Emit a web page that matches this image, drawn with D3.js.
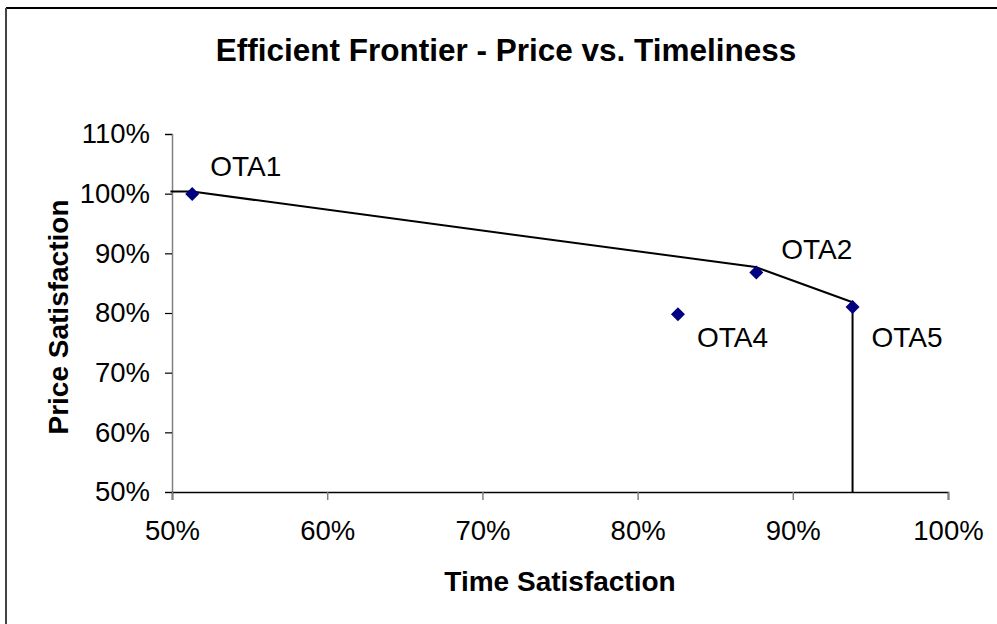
<!DOCTYPE html>
<html>
<head>
<meta charset="utf-8">
<script src="https://d3js.org/d3.v7.min.js"></script>
<style>
  body { margin: 0; background: #fff; }
  text { font-family: Arial, "Liberation Sans", sans-serif; }
</style>
</head>
<body>
<script>

// data
var names = ["OTA1", "OTA2", "OTA4", "OTA5"];
var timeSat = [0.513, 0.8765, 0.826, 0.9385];
var priceSat = [0.9995, 0.868, 0.798, 0.810];

// frontier polyline
var frontierTime = [0.499, 0.513, 0.876, 0.9385, 0.9385];
var frontierPrice = [1.0035, 1.0035, 0.877, 0.818, 0.5];

var xTicks = [0.5, 0.6, 0.7, 0.8, 0.9, 1.0];
var yTicks = [0.5, 0.6, 0.7, 0.8, 0.9, 1.0, 1.1];

// label placement (dx, dy from the marker)
var labelDx = [18, 25, 19, 19];
var labelDy = [-18, -13, 33, 40];

var width = 997, height = 624;

var svg = d3.select("body").append("svg")
  .attr("width", width).attr("height", height);

// chart area border (only top and left visible)
svg.append("line").attr("x1", 6).attr("x2", width).attr("y1", 8).attr("y2", 8)
  .attr("stroke", "#000").attr("stroke-width", 2);
svg.append("line").attr("x1", 6).attr("x2", 6).attr("y1", 8).attr("y2", height)
  .attr("stroke", "#444").attr("stroke-width", 2);

var x = d3.scaleLinear().domain([0.5, 1.0]).range([172, 948]);
var y = d3.scaleLinear().domain([0.5, 1.1]).range([492, 134]);

var pct = d3.format(".0%");

// y axis
var yAxis = svg.append("g").attr("transform", "translate(172,0)")
  .call(d3.axisLeft(y).tickValues(yTicks).tickFormat(pct).tickSize(7).tickPadding(15));
yAxis.select(".domain").attr("stroke", "#808080").attr("stroke-width", 1.5);
yAxis.selectAll(".tick line").attr("stroke", "#000").attr("stroke-width", 1.2);
yAxis.selectAll("text").attr("font-size", 27.5).attr("fill", "#000")
  .attr("font-family", "Arial, 'Liberation Sans', sans-serif");

// x axis
var xAxis = svg.append("g").attr("transform", "translate(0,492)")
  .call(d3.axisBottom(x).tickValues(xTicks).tickFormat(pct).tickSize(8).tickPadding(20));
xAxis.select(".domain").attr("stroke", "#000").attr("stroke-width", 1.5);
xAxis.selectAll(".tick line").attr("stroke", "#808080").attr("stroke-width", 1.5);
xAxis.selectAll("text").attr("font-size", 27.5).attr("fill", "#000")
  .attr("font-family", "Arial, 'Liberation Sans', sans-serif");

// frontier line
var frontier = frontierTime.map(function(t, i) { return [t, frontierPrice[i]]; });
svg.append("path")
  .datum(frontier)
  .attr("d", d3.line().x(function(d) { return x(d[0]); }).y(function(d) { return y(d[1]); }))
  .attr("fill", "none")
  .attr("stroke", "#000")
  .attr("stroke-width", 2);

// points
var pts = names.map(function(n, i) { return { name: n, t: timeSat[i], p: priceSat[i], dx: labelDx[i], dy: labelDy[i] }; });

svg.selectAll(".pt").data(pts).enter()
  .append("path")
  .attr("class", "pt")
  .attr("transform", function(d) { return "translate(" + x(d.t) + "," + y(d.p) + ")"; })
  .attr("d", "M0,-7L7,0L0,7L-7,0Z")
  .attr("fill", "#000080");

svg.selectAll(".lbl").data(pts).enter()
  .append("text")
  .attr("class", "lbl")
  .attr("x", function(d) { return x(d.t) + d.dx; })
  .attr("y", function(d) { return y(d.p) + d.dy; })
  .attr("font-size", 28)
  .text(function(d) { return d.name; });

// titles
svg.append("text")
  .attr("x", 506).attr("y", 61)
  .attr("text-anchor", "middle")
  .attr("font-size", 31.5).attr("font-weight", "bold")
  .text("Efficient Frontier - Price vs. Timeliness");

svg.append("text")
  .attr("x", 560).attr("y", 591)
  .attr("text-anchor", "middle")
  .attr("font-size", 28).attr("font-weight", "bold")
  .text("Time Satisfaction");

svg.append("text")
  .attr("transform", "translate(68,317) rotate(-90)")
  .attr("text-anchor", "middle")
  .attr("font-size", 28).attr("font-weight", "bold")
  .text("Price Satisfaction");

</script>
</body>
</html>
